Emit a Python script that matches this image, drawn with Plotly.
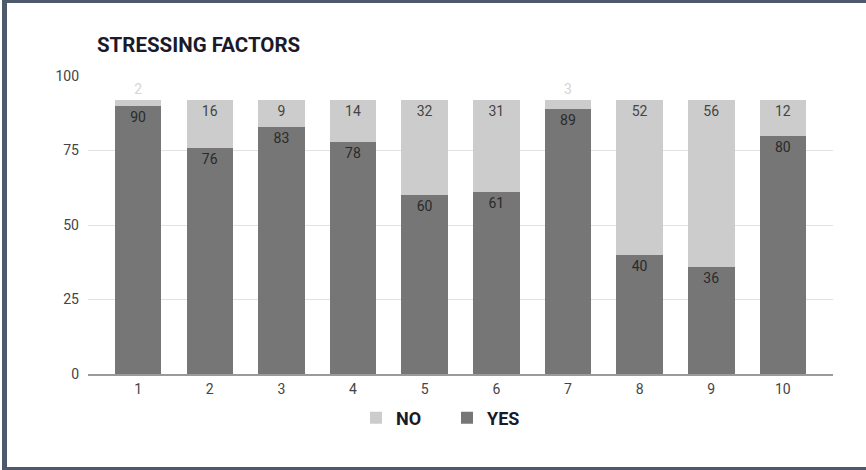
import plotly.graph_objects as go

categories = [1, 2, 3, 4, 5, 6, 7, 8, 9, 10]
tick_labels = ["1", "2", "3", "4", "5", "6", "7", "8", "9", "10"]
yes_values = [90, 76, 83, 78, 60, 61, 89, 40, 36, 80]
no_values = [2, 16, 9, 14, 32, 31, 3, 52, 56, 12]

W, H = 866, 470
ML, MR, MT, MB = 88, 33, 76, 96
FONT = "Roboto, Arial, sans-serif"

no_pos = ["outside" if v < 5 else "inside" for v in no_values]

fig = go.Figure()
fig.add_trace(go.Bar(
    x=categories, y=yes_values, name="YES",
    marker=dict(color="#767676", line=dict(width=0)),
    text=[str(v) for v in yes_values], textposition="inside",
    insidetextanchor="end", constraintext="none",
    textfont=dict(family=FONT, size=14, color="#2a2a2a"),
    width=0.65, hoverinfo="skip",
))
fig.add_trace(go.Bar(
    x=categories, y=no_values, name="NO",
    marker=dict(color="#cccccc", line=dict(width=0)),
    text=[str(v) for v in no_values], textposition=no_pos,
    insidetextanchor="end", constraintext="none",
    insidetextfont=dict(family=FONT, size=14, color="#444444"),
    outsidetextfont=dict(family=FONT, size=14, color="#d4d4d4"),
    cliponaxis=False, width=0.65, hoverinfo="skip",
))

pw = W - ML - MR
ph = H - MT - MB
def px_x(p):
    return (p - ML) / pw
def px_y(p):
    return (H - MB - p) / ph

border = "#4e596b"
shapes = [
    dict(type="rect", xref="paper", yref="paper", x0=px_x(2), x1=px_x(7), y0=px_y(470), y1=px_y(0),
         fillcolor=border, line=dict(width=0), layer="above"),
    dict(type="rect", xref="paper", yref="paper", x0=px_x(2), x1=px_x(866), y0=px_y(3), y1=px_y(0),
         fillcolor=border, line=dict(width=0), layer="above"),
    dict(type="rect", xref="paper", yref="paper", x0=px_x(2), x1=px_x(866), y0=px_y(470), y1=px_y(467),
         fillcolor=border, line=dict(width=0), layer="above"),
]

fig.update_layout(
    width=W, height=H,
    margin=dict(l=ML, r=MR, t=MT, b=MB),
    barmode="stack",
    paper_bgcolor="white", plot_bgcolor="white",
    title=dict(text="<b>STRESSING FACTORS</b>", x=px_x(97), xref="paper", xanchor="left",
               y=1 - 45 / H, yanchor="middle",
               font=dict(family=FONT, size=20.5, color="#1a1a2a")),
    xaxis=dict(range=[0.3, 10.7], tickmode="array", tickvals=categories, ticktext=tick_labels,
               showgrid=False, zeroline=False, showline=True, linecolor="#9a9a9a", linewidth=1.5,
               ticks="", ticklabelstandoff=1,
               tickfont=dict(family=FONT, size=14, color="#444444")),
    yaxis=dict(range=[0, 100], tickvals=[0, 25, 50, 75, 100], showgrid=True, gridcolor="#e2e2e2",
               gridwidth=1, zeroline=False, ticks="", ticklabelstandoff=8,
               tickfont=dict(family=FONT, size=14, color="#444444")),
    legend=dict(orientation="h", x=px_x(356), xanchor="left", y=px_y(418), yanchor="middle",
                traceorder="reversed", itemsizing="constant",
                entrywidth=46, entrywidthmode="pixels",
                font=dict(family=FONT, size=18, color="#1a1a2a", weight="bold")),
    shapes=shapes,
    showlegend=True,
)

fig.write_html("out.html", config={"displayModeBar": False},
               post_script="document.body.style.margin='0';")
